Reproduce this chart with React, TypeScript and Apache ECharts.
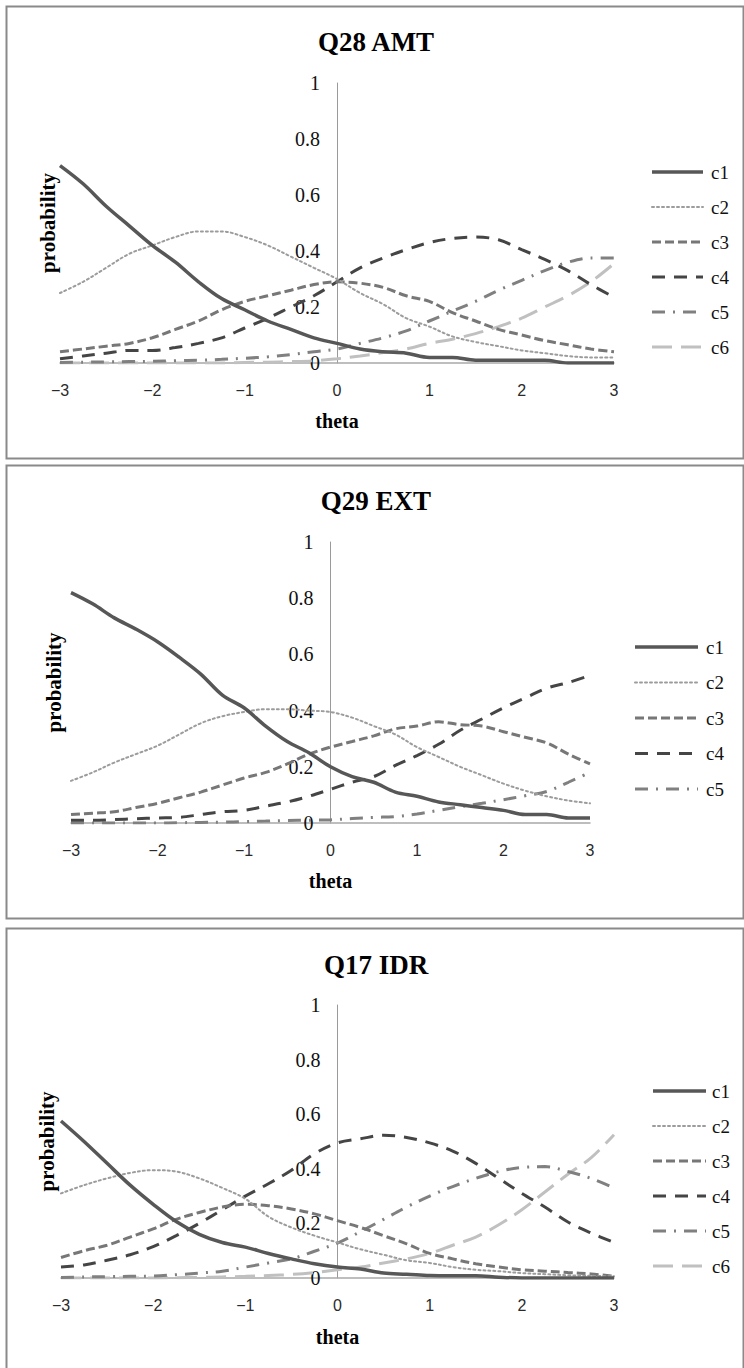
import React, { useEffect, useRef } from "react";
import * as echarts from "echarts";

// theta grid used when reading the curves
const THETA = [-3, -2.75, -2.5, -2.25, -2, -1.75, -1.5, -1.25, -1, -0.75, -0.5, -0.25, 0, 0.25, 0.5, 0.75, 1, 1.25, 1.5, 1.75, 2, 2.25, 2.5, 2.75, 3];
const X_TICK_LABELS = ["-3", "-2", "-1", "0", "1", "2", "3"];
const Y_TICK_LABELS = ["0", "0.2", "0.4", "0.6", "0.8", "1"];
const CATEGORY_NAMES = ["c1", "c2", "c3", "c4", "c5", "c6"];
const PANEL_TITLES = ["Q28 AMT", "Q29 EXT", "Q17 IDR"];

// Q28 AMT
const Q28_C1 = [0.705, 0.64, 0.56, 0.49, 0.42, 0.36, 0.29, 0.23, 0.19, 0.15, 0.12, 0.09, 0.07, 0.05, 0.04, 0.035, 0.02, 0.02, 0.01, 0.01, 0.01, 0.01, 0.0, 0.0, 0.0];
const Q28_C2 = [0.25, 0.29, 0.34, 0.39, 0.42, 0.45, 0.47, 0.47, 0.45, 0.42, 0.38, 0.34, 0.3, 0.25, 0.21, 0.16, 0.13, 0.095, 0.075, 0.06, 0.045, 0.035, 0.025, 0.02, 0.02];
const Q28_C3 = [0.04, 0.05, 0.06, 0.07, 0.09, 0.12, 0.15, 0.19, 0.22, 0.24, 0.26, 0.28, 0.29, 0.285, 0.27, 0.24, 0.22, 0.18, 0.15, 0.12, 0.1, 0.08, 0.065, 0.05, 0.04];
const Q28_C4 = [0.015, 0.025, 0.035, 0.045, 0.045, 0.055, 0.07, 0.09, 0.125, 0.16, 0.2, 0.24, 0.29, 0.34, 0.375, 0.405, 0.43, 0.445, 0.45, 0.44, 0.405, 0.37, 0.33, 0.28, 0.235];
const Q28_C5 = [0.002, 0.003, 0.004, 0.005, 0.006, 0.008, 0.01, 0.013, 0.017, 0.022, 0.03, 0.04, 0.05, 0.07, 0.09, 0.115, 0.15, 0.185, 0.22, 0.26, 0.295, 0.33, 0.36, 0.375, 0.375];
const Q28_C6 = [0, 0, 0, 0, 0, 0, 0, 0, 0.002, 0.003, 0.005, 0.008, 0.015, 0.025, 0.037, 0.05, 0.07, 0.085, 0.105, 0.13, 0.16, 0.2, 0.24, 0.29, 0.355];

// Q29 EXT
const Q29_C1 = [0.82, 0.78, 0.73, 0.69, 0.645, 0.59, 0.53, 0.455, 0.41, 0.345, 0.29, 0.25, 0.2, 0.165, 0.145, 0.11, 0.095, 0.075, 0.065, 0.055, 0.045, 0.03, 0.03, 0.018, 0.018];
const Q29_C2 = [0.15, 0.18, 0.215, 0.245, 0.275, 0.315, 0.355, 0.38, 0.395, 0.405, 0.405, 0.4, 0.395, 0.375, 0.345, 0.315, 0.27, 0.235, 0.2, 0.17, 0.14, 0.115, 0.095, 0.08, 0.07];
const Q29_C3 = [0.03, 0.035, 0.04, 0.055, 0.07, 0.09, 0.11, 0.135, 0.16, 0.18, 0.21, 0.245, 0.27, 0.29, 0.31, 0.335, 0.345, 0.36, 0.35, 0.345, 0.325, 0.305, 0.285, 0.245, 0.21];
const Q29_C4 = [0.01, 0.01, 0.012, 0.015, 0.018, 0.02, 0.03, 0.04, 0.045, 0.06, 0.075, 0.095, 0.12, 0.145, 0.165, 0.205, 0.24, 0.28, 0.33, 0.37, 0.41, 0.445, 0.48, 0.5, 0.525];
const Q29_C5 = [0, 0, 0, 0, 0, 0.001, 0.002, 0.003, 0.005, 0.007, 0.009, 0.01, 0.011, 0.016, 0.02, 0.023, 0.032, 0.045, 0.058, 0.07, 0.083, 0.097, 0.112, 0.145, 0.18];

// Q17 IDR
const Q17_C1 = [0.575, 0.5, 0.42, 0.34, 0.27, 0.207, 0.16, 0.13, 0.113, 0.09, 0.07, 0.052, 0.04, 0.033, 0.018, 0.014, 0.009, 0.008, 0.008, 0.003, 0, 0, 0, 0, 0];
const Q17_C2 = [0.31, 0.34, 0.365, 0.385, 0.395, 0.39, 0.365, 0.33, 0.29, 0.225, 0.185, 0.155, 0.13, 0.105, 0.085, 0.065, 0.055, 0.04, 0.03, 0.025, 0.018, 0.014, 0.01, 0.008, 0.006];
const Q17_C3 = [0.075, 0.1, 0.12, 0.15, 0.18, 0.215, 0.24, 0.26, 0.27, 0.265, 0.253, 0.235, 0.21, 0.185, 0.155, 0.125, 0.09, 0.07, 0.052, 0.04, 0.03, 0.025, 0.02, 0.015, 0.006];
const Q17_C4 = [0.04, 0.048, 0.065, 0.085, 0.115, 0.155, 0.2, 0.25, 0.3, 0.345, 0.395, 0.455, 0.495, 0.51, 0.523, 0.515, 0.495, 0.465, 0.42, 0.365, 0.31, 0.26, 0.205, 0.165, 0.13];
const Q17_C5 = [0.002, 0.004, 0.005, 0.006, 0.007, 0.012, 0.018, 0.025, 0.04, 0.055, 0.07, 0.098, 0.128, 0.17, 0.215, 0.26, 0.3, 0.335, 0.365, 0.39, 0.405, 0.408, 0.39, 0.365, 0.33];
const Q17_C6 = [0, 0, 0, 0, 0, 0.001, 0.002, 0.004, 0.006, 0.009, 0.013, 0.02, 0.03, 0.04, 0.055, 0.07, 0.09, 0.12, 0.15, 0.195, 0.25, 0.315, 0.38, 0.44, 0.525];

const PANEL_SERIES = [
  [Q28_C1, Q28_C2, Q28_C3, Q28_C4, Q28_C5, Q28_C6],
  [Q29_C1, Q29_C2, Q29_C3, Q29_C4, Q29_C5],
  [Q17_C1, Q17_C2, Q17_C3, Q17_C4, Q17_C5, Q17_C6],
];

// ---------- styles & layout (not data) ----------
const LINE_STYLES: any[] = [
  { color: "#575757", width: 3.5, type: "solid" },
  { color: "#9c9c9c", width: 2, type: [2, 3], cap: "round" },
  { color: "#777777", width: 3, type: [9, 4] },
  { color: "#454545", width: 3, type: [13, 9] },
  { color: "#808080", width: 3, type: [13, 8, 2, 8] },
  { color: "#c0c0c0", width: 3, type: [20, 9] },
];

const PANELS = [
  { box: [6, 6, 737, 452], grid: { left: 60, top: 83, width: 554, height: 280 }, title: 42, theta: 421, prob: 48, legend: { x1: 652, x2: 703, tx: 711, y: 172, gap: 35 } },
  { box: [6, 465, 737, 453], grid: { left: 71, top: 542, width: 519, height: 281 }, title: 501, theta: 881, prob: 54, legend: { x1: 635, x2: 698, tx: 706, y: 647, gap: 35.5 } },
  { box: [6, 928, 737, 460], grid: { left: 61, top: 1005, width: 553, height: 273 }, title: 965, theta: 1337, prob: 47, legend: { x1: 653, x2: 706, tx: 712, y: 1091, gap: 35 } },
];

const SERIF = '"Liberation Serif", "Times New Roman", serif';
const SANS = '"Liberation Sans", Arial, sans-serif';

export default function App() {
  const ref = useRef<HTMLDivElement>(null);

  useEffect(() => {
    document.body.style.margin = "0";
    if (!ref.current) return;
    const chart = echarts.init(ref.current, undefined, { renderer: "svg" });

    const grids: any[] = [];
    const xAxes: any[] = [];
    const yAxes: any[] = [];
    const series: any[] = [];
    const graphics: any[] = [];

    PANELS.forEach((p, i) => {
      grids.push({ ...p.grid, containLabel: false });
      xAxes.push({
        type: "value",
        gridIndex: i,
        min: -3,
        max: 3,
        interval: 1,
        splitLine: { show: false },
        axisTick: { show: false },
        axisLine: { onZero: true, lineStyle: { color: "#a8a8a8", width: 1.5 } },
        axisLabel: {
          margin: 19,
          fontFamily: SANS,
          fontSize: 16,
          color: "#2a2a2a",
          formatter: (v: number) => {
            const idx = Math.round(v) + 3;
            return (X_TICK_LABELS[idx] ?? String(v)).replace("-", "\u2212");
          },
        },
      });
      // y axis placed where theta = 0 (half of the grid width inward)
      yAxes.push({
        type: "value",
        gridIndex: i,
        min: 0,
        max: 1,
        interval: 0.2,
        offset: -p.grid.width / 2,
        splitLine: { show: false },
        axisTick: { show: false },
        axisLine: { show: true, onZero: false, lineStyle: { color: "#9a9a9a", width: 1 } },
        axisLabel: {
          margin: 17,
          fontFamily: SERIF,
          fontSize: 20,
          color: "#111",
          formatter: (v: number) => {
            const idx = Math.round(v * 5);
            return Y_TICK_LABELS[idx] ?? String(v);
          },
        },
      });

      PANEL_SERIES[i].forEach((vals, k) => {
        const st = LINE_STYLES[k];
        series.push({
          type: "line",
          name: CATEGORY_NAMES[k],
          xAxisIndex: i,
          yAxisIndex: i,
          data: THETA.map((t, j) => [t, vals[j]]),
          symbol: "none",
          smooth: 0.35,
          z: 3 + (6 - k),
          lineStyle: { color: st.color, width: st.width, type: st.type, cap: st.cap || "butt" },
          itemStyle: { color: st.color },
        });

        // legend entry: sample line + label
        const ly = p.legend.y + k * p.legend.gap;
        graphics.push({
          type: "line",
          shape: { x1: p.legend.x1, y1: ly, x2: p.legend.x2, y2: ly },
          style: {
            stroke: st.color,
            lineWidth: st.width,
            lineDash: Array.isArray(st.type) ? st.type : null,
            lineCap: st.cap || "butt",
          },
          silent: true,
        });
        graphics.push({
          type: "text",
          x: p.legend.tx,
          y: ly,
          style: { text: CATEGORY_NAMES[k], font: `19px ${SERIF}`, fill: "#111", align: "left", verticalAlign: "middle" },
          silent: true,
        });
      });

      const [bx, by, bw, bh] = p.box;
      graphics.push({
        type: "rect",
        shape: { x: bx + 0.5, y: by + 0.5, width: bw, height: bh },
        style: { fill: "none", stroke: "#8a8a8a", lineWidth: 2 },
        silent: true,
        z: -10,
      });
      graphics.push({
        type: "text",
        x: 376,
        y: p.title,
        style: { text: PANEL_TITLES[i], font: `bold 27px ${SERIF}`, fill: "#000", align: "center", verticalAlign: "middle" },
      });
      graphics.push({
        type: "text",
        x: p.grid.left + p.grid.width / 2,
        y: p.theta,
        style: { text: "theta", font: `bold 20px ${SERIF}`, fill: "#000", align: "center", verticalAlign: "middle" },
      });
      graphics.push({
        type: "text",
        x: p.prob,
        y: p.grid.top + p.grid.height / 2,
        rotation: Math.PI / 2,
        style: { text: "probability", font: `bold 21px ${SERIF}`, fill: "#000", align: "center", verticalAlign: "middle" },
      });
    });

    chart.setOption({
      animation: false,
      backgroundColor: "#fff",
      grid: grids,
      xAxis: xAxes,
      yAxis: yAxes,
      series,
      graphic: graphics,
    });

    return () => chart.dispose();
  }, []);

  return <div ref={ref} style={{ width: 744, height: 1368 }} />;
}
